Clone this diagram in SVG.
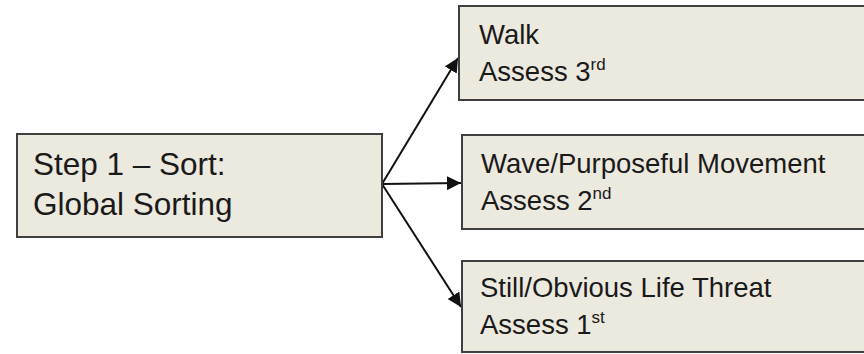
<svg xmlns="http://www.w3.org/2000/svg" width="864" height="354" viewBox="0 0 864 354">
<style>
.box{fill:#ECE9DF;stroke:#3f3f3f;stroke-width:2}
.t{font-family:"Liberation Sans",Arial,sans-serif;fill:#1a1a1a}
.big{font-size:31.5px}
.sm{font-size:27.5px}
.sup{font-size:17px}
.conn{stroke:#111;stroke-width:2;fill:none}
</style>
<defs>
<marker id="ah" viewBox="0 0 10 10" refX="10" refY="5" markerWidth="7" markerHeight="7" orient="auto" markerUnits="strokeWidth">
<path d="M0,0 L10,5 L0,10 z" fill="#111"/>
</marker>
</defs>
<rect width="864" height="354" fill="#ffffff"/>
<g id="connectors">
<line class="conn" x1="382" y1="184" x2="458" y2="58" marker-end="url(#ah)"/>
<line class="conn" x1="382" y1="184" x2="461" y2="183" marker-end="url(#ah)"/>
<line class="conn" x1="382" y1="184" x2="461" y2="307" marker-end="url(#ah)"/>
</g>
<g id="step1">
<rect class="box" x="17" y="134" width="365" height="103"/>
<text class="t big" x="33" y="175">Step 1 – Sort:</text>
<text class="t big" x="33" y="215">Global Sorting</text>
</g>
<g id="walk">
<rect class="box" x="459" y="6" width="420" height="94"/>
<text class="t sm" x="479" y="44">Walk</text>
<text class="t sm" x="479" y="81">Assess 3<tspan class="sup" dy="-11">rd</tspan></text>
</g>
<g id="wave">
<rect class="box" x="462" y="135" width="420" height="94"/>
<text class="t sm" x="481" y="173">Wave/Purposeful Movement</text>
<text class="t sm" x="481" y="210">Assess 2<tspan class="sup" dy="-11">nd</tspan></text>
</g>
<g id="still">
<rect class="box" x="462" y="261" width="420" height="91"/>
<text class="t sm" x="480" y="297">Still/Obvious Life Threat</text>
<text class="t sm" x="480" y="334">Assess 1<tspan class="sup" dy="-11">st</tspan></text>
</g>
</svg>
